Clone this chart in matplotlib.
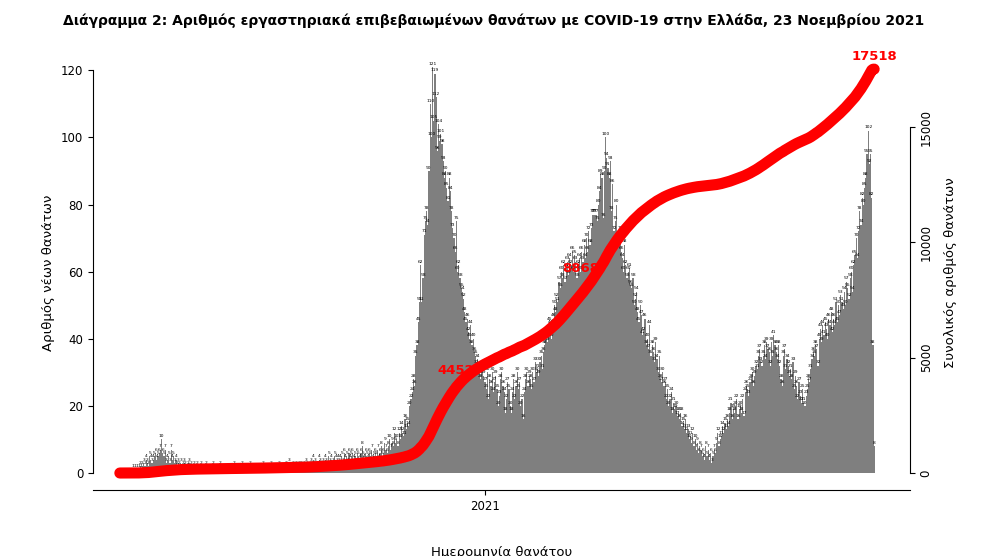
import numpy as np
import matplotlib
matplotlib.use("Agg")
import matplotlib.pyplot as plt

# daily deaths, starting 1 March 2020
mar20 = [0,0,0,0,0,0,0,0,0,0,0,1,0,1,1,0,1,2,1,2,3,2,4,3,2,5,4,3,4,5,6]
apr20 = [4,5,6,7,10,6,5,7,3,4,5,3,7,4,5,3,4,2,3,2,3,1,2,3,2,1,2,3,1,2]
may20 = [1,2,1,0,2,1,1,2,0,1,1,2,0,1,1,0,1,2,1,0,1,1,0,2,1,0,1,1,0,1,1]
jun20 = [0,1,1,0,2,1,0,1,0,1,2,0,1,0,1,1,0,2,1,0,1,0,1,1,0,1,0,1,2,1]
jul20 = [0,1,1,0,1,2,1,0,1,1,0,2,1,1,0,1,0,2,1,1,3,1,0,2,1,1,2,1,2,1,2]
aug20 = [1,2,1,3,2,1,2,3,2,4,2,3,1,2,4,3,2,3,2,4,3,2,5,3,4,2,3,5,4,3,4]
sep20 = [3,4,5,3,6,4,5,3,6,4,5,6,4,5,3,6,5,4,6,8,5,4,6,5,4,6,5,7,4,5]
oct20 = [6,5,7,4,6,8,5,6,9,7,6,8,10,7,9,8,12,9,10,8,12,10,14,12,11,16,13,15,14,20,22]
nov20 = [24,28,26,35,38,45,51,62,51,58,71,75,78,74,90,110,100,121,105,119,112,96,104,99,101,98,93,88,90,85]
dec20 = [81,88,84,78,73,70,66,75,60,62,58,55,54,52,48,45,46,42,40,44,38,40,36,35,32,34,30,28,30,31,29]
jan21 = [27,25,30,22,28,26,30,24,27,29,25,20,23,28,30,26,24,18,22,27,25,20,18,24,28,22,26,30,25,27,20]
feb21 = [22,16,24,28,30,26,29,28,25,30,27,33,30,31,29,33,35,31,36,38,40,39,42,45,44,40,46,50]
mar21 = [48,52,51,57,55,60,58,62,57,61,63,59,64,62,66,60,65,63,58,62,64,60,66,63,68,64,70,66,72,68,73]
apr21 = [77,77,77,77,75,80,84,89,88,76,90,100,94,91,88,93,78,86,72,75,80,70,68,72,66,64,60,68,62,58]
may21 = [60,61,56,55,58,50,52,54,48,45,50,47,41,42,46,38,40,37,44,35,38,36,33,39,34,30,35,28,27,30,26]
jun21 = [27,22,25,20,22,24,18,21,19,20,17,18,16,18,14,15,13,16,12,13,10,11,9,12,8,10,7,9,6,8]
jul21 = [7,5,6,4,8,5,7,4,6,3,5,7,6,9,12,8,10,11,14,12,15,13,16,14,18,21,16,19,18,20,22]
aug21 = [16,19,20,18,22,17,24,26,25,23,27,28,30,26,29,32,31,35,37,33,32,35,38,34,39,37,36,32,39,35,41]
sep21 = [38,36,34,38,32,28,26,35,37,31,34,32,29,31,28,33,25,29,26,22,27,23,21,25,21,20,23,25,28,27]
oct21 = [31,34,36,35,38,37,32,40,43,39,44,41,45,43,40,46,44,48,42,46,44,51,45,50,47,53,51,49,54,50,57]
nov21 = [55,52,58,60,54,62,65,70,64,72,78,74,82,80,85,88,95,102,92,95,82,38,8]

daily = np.array(mar20 + apr20 + may20 + jun20 + jul20 + aug20 + sep20 + oct20 + nov20 + dec20
                 + jan21 + feb21 + mar21 + apr21 + may21 + jun21 + jul21 + aug21 + sep21 + oct21 + nov21)
days = np.arange(len(daily))
cum = np.cumsum(daily)
jan1_2021 = 306
label_days = [297, 402]

fig = plt.figure(figsize=(9.88, 5.56), dpi=100)
ax = fig.add_axes([0.094, 0.1187, 0.827, 0.782])
ax.bar(days, daily, width=1.0, color="#7f7f7f", zorder=1)
for d, v in zip(days, daily):
    ax.text(d, v + 0.4, str(v), fontsize=3.2, ha="center", va="bottom", zorder=2)

ax.set_xlim(-22.6, 662)
ax.set_ylim(-5.06, 124.5)
ax.spines["top"].set_visible(False)
ax.spines["right"].set_visible(False)
ax.spines["left"].set_bounds(0, 120)
ax.set_yticks([0, 20, 40, 60, 80, 100, 120])
ax.set_xticks([jan1_2021])
ax.set_xticklabels(["2021"])
ax.tick_params(labelsize=8.5)
ax.set_ylabel("Αριθμός νέων θανάτων", fontsize=9.5)
ax.set_xlabel("Ημερομηνία θανάτου", fontsize=9.5, labelpad=24)

ax2 = ax.twinx()
ax2.plot(days, cum, color="red", lw=8, solid_capstyle="round", zorder=5)
ax2.set_ylim(-737, 18121)
for s in ["top", "left", "bottom"]:
    ax2.spines[s].set_visible(False)
ax2.spines["right"].set_bounds(0, 15000)
ax2.set_yticks([0, 5000, 10000, 15000])
ax2.set_yticklabels(["0", "5000", "10000", "15000"], rotation=90, va="center")
ax2.tick_params(labelsize=8.5)
ax2.set_ylabel("Συνολικός αριθμός θανάτων", fontsize=9.5, labelpad=8)
for d in label_days:
    ax2.text(d, cum[d], str(cum[d]), color="red", fontsize=9.5, fontweight="bold", ha="right", va="center", zorder=6)
ax2.text(days[-1], cum[-1] + 250, str(cum[-1]), color="red", fontsize=9.5, fontweight="bold", ha="center", va="bottom", zorder=6)

fig.suptitle("Διάγραμμα 2: Αριθμός εργαστηριακά επιβεβαιωμένων θανάτων με COVID-19 στην Ελλάδα, 23 Νοεμβρίου 2021",
             fontsize=10, fontweight="bold", y=0.975)
fig.savefig("out.png", dpi=100)
